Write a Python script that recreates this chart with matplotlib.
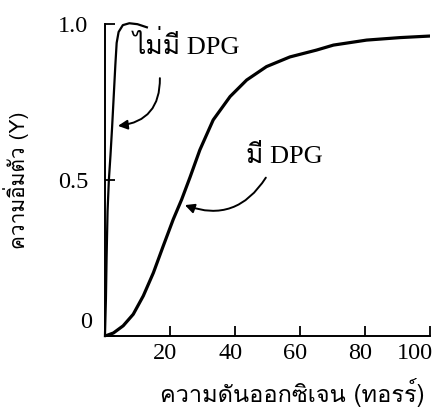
import matplotlib
matplotlib.use("Agg")
import matplotlib.pyplot as plt
from matplotlib import font_manager
from matplotlib.ft2font import FT2Font

# pick an installed font that actually has Thai glyphs
def find_thai_font():
    for f in font_manager.fontManager.ttflist:
        try:
            if 0x0E21 in FT2Font(f.fname).get_charmap():
                return f.name
        except Exception:
            pass
    return None

thai = find_thai_font()
serif = ["Liberation Serif", "DejaVu Serif"]
label_fam = ([thai] if thai else []) + ["DejaVu Sans"]
annot_fam = ["Liberation Serif"] + ([thai] if thai else [])  # Latin in serif, Thai falls through

# oxygen pressure (torr) and fractional saturation
p_dpg = [0, 2.6, 5.6, 8.7, 11.8, 14.9, 17.9, 21.0, 23.6, 26.2, 29.2, 33.3, 38.5,
         43.6, 49.7, 56.9, 65.1, 70.3, 80.5, 90.8, 100]
y_dpg = [0, 0.01, 0.033, 0.07, 0.129, 0.203, 0.288, 0.374, 0.438, 0.51, 0.597, 0.693, 0.768,
         0.821, 0.864, 0.895, 0.917, 0.933, 0.949, 0.957, 0.962]

p_nodpg = [0, 0.3, 0.5, 0.8, 1.2, 1.7, 2.2, 2.7, 3.2, 3.6, 4.2, 5.5, 7.5, 10, 12.9]
y_nodpg = [0, 0.12, 0.25, 0.4, 0.5, 0.58, 0.67, 0.77, 0.87, 0.94, 0.975, 0.997, 1.003, 1.0, 0.99]

x_ticks = [20, 40, 60, 80, 100]
y_ticks = [0, 0.5, 1.0]
y_ticklabels = ["", "0.5", "1.0"]  # the shared "0" sits in the corner, drawn below

fig = plt.figure(figsize=(4.41, 4.17), dpi=100)
ax = fig.add_axes([0.238, 0.194, 0.737, 0.748])

ax.plot(p_dpg, y_dpg, color="black", lw=2.3, solid_capstyle="round", solid_joinstyle="round")
ax.plot(p_nodpg, y_nodpg, color="black", lw=1.6, clip_on=False, solid_joinstyle="round")

ax.set_xlim(0, 100)
ax.set_ylim(0, 1.0)
ax.spines["top"].set_visible(False)
ax.spines["right"].set_visible(False)
for s in ("left", "bottom"):
    ax.spines[s].set_linewidth(1.4)

ax.set_xticks(x_ticks)
ax.set_xticklabels([])
ax.set_yticks(y_ticks)
ax.set_yticklabels(y_ticklabels)
ax.tick_params(direction="in", length=7, width=1.3, labelsize=17.5)
ax.tick_params(axis="y", pad=12)
for t in ax.get_yticklabels():
    t.set_fontfamily(serif)

# x tick labels sit a little left of their ticks in the original; "100" kept inside the edge
for v in x_ticks:
    last = v == x_ticks[-1]
    ax.annotate(str(v), xy=(v, 0), xytext=(2 if last else -3.5, -5), textcoords="offset points",
                ha="right" if last else "center", va="top", fontsize=17.5, family=serif)
ax.annotate("0", xy=(0, 0), xytext=(-9.5, 10), textcoords="offset points",
            ha="right", va="center", fontsize=17.5, family=serif)

ax.set_xlabel("ความดันออกซิเจน (ทอรร์)", family=label_fam, fontsize=17)
ax.xaxis.set_label_coords(0.575, -0.135)
ax.set_ylabel("ความอิ่มตัว (Y)", family=label_fam, fontsize=15)
ax.yaxis.set_label_coords(-0.235, 0.5)

ax.text(8.6, 0.933, "ไม่มี DPG", family=annot_fam, fontsize=19, ha="left", va="center")
ax.text(43.4, 0.575, "มี DPG", family=annot_fam, fontsize=19, ha="left", va="center")

# curved arrows from the labels to the curves
arrow = dict(arrowstyle="-|>", color="black", lw=1.4, mutation_scale=14, shrinkA=0, shrinkB=0)
ax.annotate("", xy=(4.0, 0.674), xytext=(16.9, 0.827),
            arrowprops=dict(arrow, connectionstyle="arc3,rad=-0.45"))
ax.annotate("", xy=(24.6, 0.42), xytext=(49.5, 0.508),
            arrowprops=dict(arrow, connectionstyle="arc3,rad=-0.4"))

fig.savefig("out.png", dpi=100)
